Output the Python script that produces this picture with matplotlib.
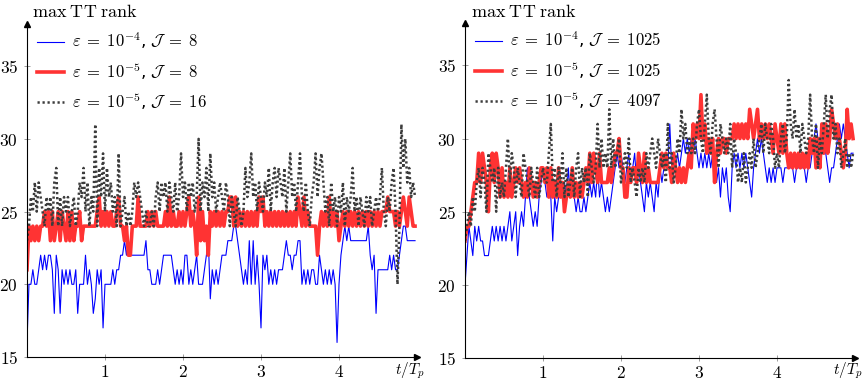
import numpy as np
import matplotlib
matplotlib.use("Agg")
import matplotlib.pyplot as plt

plt.rcParams['mathtext.fontset'] = 'cm'
plt.rcParams['font.size'] = 12

dt = 0.025  # sampling step in t/T_p

# left panel: J = 8 / 16
left_eps4_J8 = [
    16, 20, 20, 21, 20, 20, 21, 22, 21, 22,
    21, 22, 22, 21, 18, 22, 21, 18, 21, 20,
    21, 20, 21, 20, 20, 21, 18, 20, 20, 20,
    22, 20, 21, 20, 18, 19, 21, 20, 21, 17,
    20, 20, 20, 20, 21, 20, 21, 21, 22, 22,
    23, 22, 23, 22, 22, 22, 22, 22, 22, 22,
    22, 23, 21, 21, 20, 20, 20, 21, 20, 21,
    22, 22, 22, 22, 22, 21, 20, 21, 20, 21,
    20, 22, 22, 20, 21, 20, 21, 22, 20, 20,
    20, 21, 22, 23, 19, 21, 20, 21, 20, 21,
    22, 22, 22, 23, 23, 23, 24, 24, 23, 22,
    21, 20, 21, 20, 23, 20, 23, 20, 22, 20,
    17, 22, 21, 22, 20, 21, 20, 21, 20, 21,
    21, 21, 22, 23, 22, 22, 21, 22, 22, 23,
    23, 20, 21, 20, 21, 20, 21, 21, 20, 20,
    22, 21, 20, 21, 20, 21, 20, 21, 20, 16,
    20, 22, 23, 24, 23, 24, 23, 23, 23, 23,
    23, 23, 23, 23, 23, 24, 22, 21, 22, 18,
    21, 21, 21, 21, 21, 21, 22, 21, 22, 21,
    21, 22, 23, 24, 24, 23, 23, 23, 23, 23,
]
left_eps5_J8 = [
    21, 24, 23, 24, 23, 24, 23, 24, 24, 25,
    24, 25, 23, 25, 23, 24, 25, 23, 25, 24,
    23, 25, 23, 25, 23, 24, 24, 25, 23, 24,
    24, 24, 24, 24, 24, 24, 25, 26, 24, 25,
    24, 25, 24, 25, 24, 24, 25, 26, 24, 24,
    23, 24, 22, 22, 24, 24, 24, 26, 24, 24,
    24, 24, 25, 24, 25, 24, 25, 24, 24, 24,
    24, 25, 24, 26, 24, 25, 24, 24, 25, 24,
    25, 24, 25, 26, 24, 25, 24, 22, 26, 23,
    25, 23, 24, 22, 25, 24, 25, 24, 25, 24,
    25, 24, 25, 25, 26, 26, 24, 26, 24, 25,
    24, 25, 24, 25, 24, 25, 24, 25, 24, 26,
    25, 26, 24, 25, 24, 25, 24, 25, 24, 25,
    24, 25, 24, 25, 24, 25, 24, 25, 24, 26,
    25, 24, 26, 24, 25, 24, 24, 24, 24, 22,
    24, 25, 24, 25, 24, 26, 24, 25, 24, 25,
    23, 24, 25, 24, 25, 24, 25, 24, 25, 24,
    25, 24, 25, 24, 25, 24, 25, 24, 25, 24,
    25, 24, 25, 25, 25, 26, 25, 25, 25, 24,
    25, 24, 25, 26, 25, 24, 26, 25, 24, 24,
]
left_eps5_J16 = [
    23, 24, 26, 25, 27, 25, 27, 26, 25, 24,
    26, 25, 26, 24, 27, 28, 24, 26, 24, 26,
    25, 26, 24, 25, 26, 24, 25, 27, 26, 28,
    25, 27, 24, 26, 25, 31, 24, 28, 26, 29,
    25, 28, 26, 27, 25, 26, 24, 29, 24, 25,
    26, 24, 25, 24, 25, 27, 26, 27, 26, 25,
    24, 25, 24, 24, 25, 24, 26, 27, 25, 27,
    26, 27, 25, 27, 26, 25, 27, 25, 26, 29,
    26, 27, 25, 27, 26, 27, 25, 26, 30, 25,
    27, 26, 28, 25, 29, 26, 27, 25, 26, 27,
    26, 25, 27, 26, 24, 26, 25, 24, 26, 25,
    24, 25, 28, 26, 27, 29, 26, 27, 25, 27,
    26, 25, 27, 26, 28, 25, 27, 28, 26, 28,
    27, 26, 28, 25, 27, 29, 26, 27, 25, 27,
    29, 26, 25, 27, 25, 24, 26, 27, 29, 26,
    28, 29, 27, 25, 26, 24, 27, 25, 26, 24,
    26, 25, 27, 24, 26, 25, 26, 28, 25, 26,
    24, 26, 25, 24, 26, 25, 26, 24, 25, 26,
    25, 26, 28, 25, 24, 26, 25, 27, 28, 25,
    20, 24, 31, 28, 30, 27, 28, 26, 27, 26,
]

# right panel: J = 1025 / 4097
right_eps4_J1025 = [
    20, 22, 24, 23, 22, 24, 23, 24, 23, 23,
    22, 22, 22, 23, 24, 23, 24, 23, 24, 23,
    24, 23, 24, 25, 23, 24, 25, 22, 24, 25,
    24, 26, 28, 26, 25, 24, 25, 24, 26, 27,
    28, 27, 26, 27, 26, 23, 26, 25, 26, 27,
    26, 27, 26, 28, 26, 28, 26, 25, 26, 25,
    25, 26, 25, 26, 27, 26, 27, 26, 28, 26,
    27, 26, 25, 26, 25, 26, 27, 28, 29, 28,
    29, 28, 27, 28, 29, 27, 28, 29, 27, 28,
    27, 26, 25, 27, 26, 27, 26, 25, 27, 26,
    28, 27, 28, 29, 28, 31, 28, 29, 28, 29,
    28, 29, 30, 29, 30, 29, 30, 29, 30, 29,
    28, 29, 28, 29, 28, 29, 28, 29, 28, 27,
    28, 26, 28, 27, 28, 26, 25, 28, 29, 28,
    29, 28, 29, 28, 29, 28, 27, 26, 28, 29,
    30, 29, 30, 29, 28, 27, 28, 27, 28, 27,
    28, 28, 28, 27, 28, 28, 28, 28, 28, 27,
    28, 28, 28, 28, 28, 27, 28, 28, 29, 30,
    31, 30, 29, 30, 31, 29, 28, 27, 28, 28,
    29, 30, 31, 30, 31, 30, 29, 28, 29, 29,
]
right_eps5_J1025 = [
    23, 24, 24, 25, 26, 27, 27, 29, 27, 29,
    28, 27, 25, 28, 29, 27, 29, 28, 26, 28,
    26, 27, 26, 28, 26, 27, 28, 27, 28, 27,
    26, 27, 26, 28, 27, 26, 27, 26, 27, 28,
    28, 27, 28, 26, 28, 26, 27, 26, 28, 26,
    27, 25, 26, 27, 26, 28, 26, 27, 26, 27,
    26, 27, 28, 27, 29, 27, 29, 28, 27, 29,
    27, 27, 27, 27, 28, 27, 28, 29, 29, 30,
    28, 28, 26, 26, 28, 27, 28, 28, 27, 29,
    28, 27, 29, 27, 28, 27, 27, 27, 27, 27,
    28, 29, 28, 29, 28, 28, 27, 29, 28, 27,
    28, 27, 28, 27, 28, 29, 28, 31, 30, 31,
    30, 33, 30, 31, 29, 30, 29, 30, 27, 29,
    30, 29, 30, 30, 29, 30, 30, 30, 31, 30,
    31, 30, 31, 30, 31, 30, 32, 31, 30, 31,
    32, 30, 31, 30, 31, 30, 31, 30, 29, 31,
    30, 29, 31, 29, 31, 29, 28, 29, 28, 29,
    28, 29, 28, 29, 28, 29, 28, 30, 29, 30,
    28, 30, 28, 31, 29, 31, 29, 30, 32, 31,
    30, 31, 30, 29, 28, 29, 32, 30, 31, 30,
]
right_eps5_J4097 = [
    23, 24, 25, 24, 26, 25, 27, 28, 26, 28,
    27, 25, 29, 28, 27, 28, 25, 28, 26, 27,
    26, 28, 30, 27, 29, 28, 26, 28, 27, 26,
    29, 28, 27, 26, 28, 27, 26, 28, 26, 27,
    28, 27, 27, 29, 31, 27, 28, 26, 28, 27,
    29, 26, 28, 26, 27, 28, 26, 28, 29, 26,
    28, 27, 28, 26, 29, 28, 27, 28, 31, 28,
    30, 28, 29, 28, 32, 28, 30, 28, 29, 30,
    27, 28, 29, 28, 30, 27, 28, 27, 26, 28,
    27, 28, 27, 29, 28, 29, 30, 29, 28, 30,
    29, 28, 29, 27, 31, 28, 29, 27, 28, 30,
    29, 32, 30, 31, 29, 30, 29, 30, 29, 31,
    32, 30, 29, 31, 33, 30, 29, 31, 32, 30,
    28, 31, 30, 29, 30, 29, 31, 28, 30, 29,
    27, 28, 27, 29, 27, 28, 29, 28, 30, 28,
    29, 30, 31, 29, 31, 30, 29, 31, 30, 28,
    29, 28, 30, 31, 29, 30, 34, 31, 30, 32,
    30, 31, 29, 31, 30, 29, 30, 33, 30, 29,
    31, 28, 30, 29, 31, 33, 30, 32, 33, 30,
    31, 29, 30, 28, 29, 30, 28, 29, 28, 29,
]

labels_left = [r'$\varepsilon\;=\;10^{-4}$, $\mathcal{J}\;=\;8$',
               r'$\varepsilon\;=\;10^{-5}$, $\mathcal{J}\;=\;8$',
               r'$\varepsilon\;=\;10^{-5}$, $\mathcal{J}\;=\;16$']
labels_right = [r'$\varepsilon\;=\;10^{-4}$, $\mathcal{J}\;=\;1025$',
                r'$\varepsilon\;=\;10^{-5}$, $\mathcal{J}\;=\;1025$',
                r'$\varepsilon\;=\;10^{-5}$, $\mathcal{J}\;=\;4097$']
xticks = [1, 2, 3, 4]
yticks = [15, 20, 25, 30, 35]


def draw_panel(ax, blue, red, black, labels):
    t_b = np.arange(len(blue)) * dt
    t_r = np.arange(len(red)) * dt
    t_k = np.arange(len(black)) * dt
    ax.plot(t_b, blue, color='#0000ff', lw=0.8, label=labels[0])
    ax.plot(t_r, red, color='#ff3333', lw=2.6, label=labels[1])
    ax.plot(t_k, black, color='#3c3c3c', lw=1.8, linestyle=(0, (0.9, 1.1)),
            label=labels[2])
    ax.set_xlim(0, 5)
    ax.set_ylim(15, 37.9)
    ax.set_xticks(xticks)
    ax.set_xticklabels([f'${v}$' for v in xticks])
    ax.set_yticks(yticks)
    ax.set_yticklabels([f'${v}$' for v in yticks])
    for s in ['top', 'right']:
        ax.spines[s].set_visible(False)
    for s in ['left', 'bottom']:
        ax.spines[s].set_linewidth(0.8)
    ax.tick_params(direction='inout', length=5, width=0.6, color='0.55',
                   labelsize=12.5)
    ax.tick_params(axis='x', pad=2)
    ax.tick_params(axis='y', pad=4)
    ax.plot(1, 0, marker='>', color='k', ms=4, transform=ax.transAxes, clip_on=False)
    ax.plot(0, 1, marker='^', color='k', ms=4, transform=ax.transAxes, clip_on=False)
    ax.legend(loc='upper left', bbox_to_anchor=(0.025, 0.98), frameon=False,
              fontsize=12, handlelength=1.65, handletextpad=0.45,
              labelspacing=0.52, borderaxespad=0, borderpad=0)


fig = plt.figure(figsize=(8.68, 3.81), dpi=100)
ax1 = fig.add_axes([27 / 868, 24 / 381, 390 / 868, 333 / 381])
ax2 = fig.add_axes([465 / 868, 23 / 381, 390 / 868, 335 / 381])

draw_panel(ax1, left_eps4_J8, left_eps5_J8, left_eps5_J16, labels_left)
draw_panel(ax2, right_eps4_J1025, right_eps5_J1025, right_eps5_J4097, labels_right)

fig.text(32 / 868, 1 - 12 / 381, r'$\mathrm{max\;TT\;rank}$', ha='left', va='center', fontsize=13)
fig.text(471 / 868, 1 - 12 / 381, r'$\mathrm{max\;TT\;rank}$', ha='left', va='center', fontsize=13)
fig.text(410 / 868, 1 - 361 / 381, r'$t/T_p$', ha='center', va='top', fontsize=11)
fig.text(848 / 868, 1 - 361 / 381, r'$t/T_p$', ha='center', va='top', fontsize=11)

fig.savefig('out.png', dpi=100)
